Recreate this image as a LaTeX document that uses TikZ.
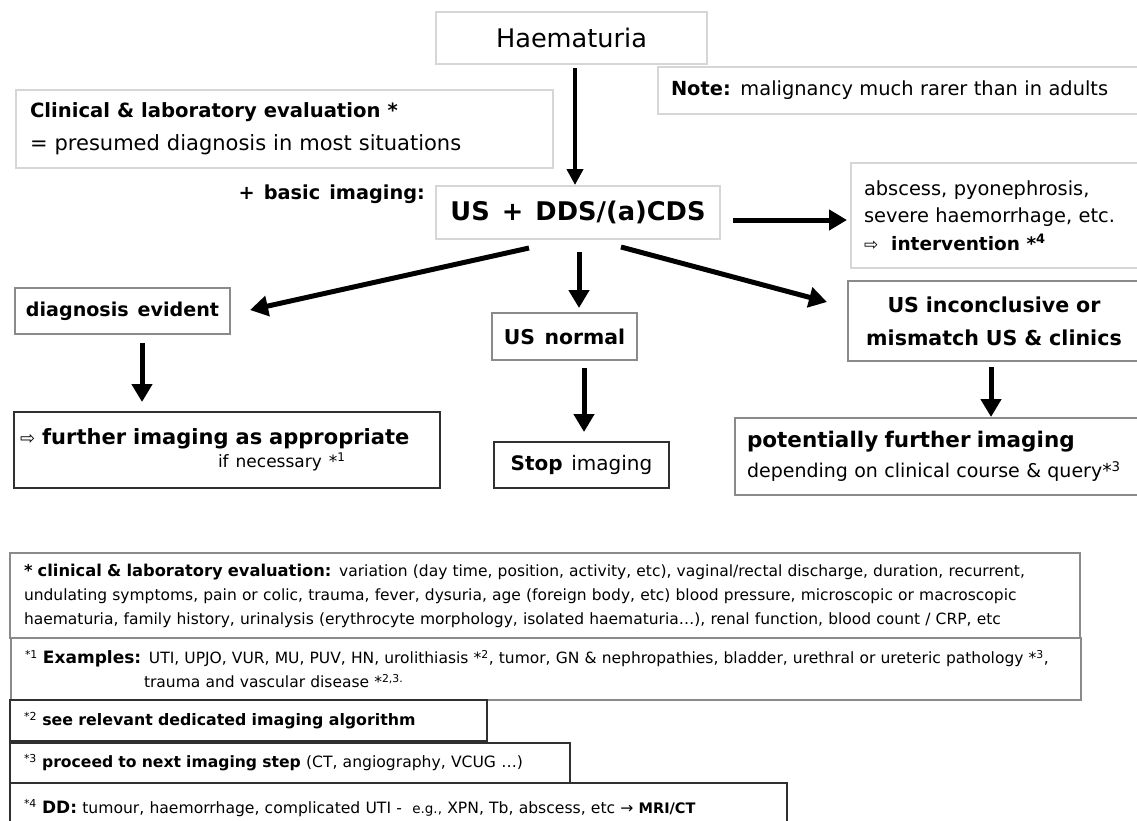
\documentclass[tikz,border=0pt]{standalone}
\usepackage{fontspec}
\setmainfont{DejaVu Sans}
\newfontfamily\wide{DejaVu Sans}[WordSpace=1.35]
\usetikzlibrary{arrows.meta}
\definecolor{clight}{HTML}{D6D6D6}
\definecolor{cmid}{HTML}{8A8A8A}
\definecolor{cdark}{HTML}{303030}
\newcommand{\fsz}[2]{\fontsize{#1pt}{#2pt}\selectfont}
\begin{document}
\begin{tikzpicture}[x=1pt,y=-1pt,
  box/.style={anchor=north west, line width=1.5pt, inner ysep=0pt, outer sep=0pt},
  lightbox/.style={box, draw=clight},
  midbox/.style={box, draw=cmid},
  darkbox/.style={box, draw=cdark},
  arr/.style={line width=5pt, -{Triangle[length=18pt,width=20pt]}},
  thinarr/.style={line width=4pt, -{Triangle[length=16pt,width=16pt]}},
]
\useasboundingbox (0,0) rectangle (1137,820);
\fill[white] (0,0) rectangle (1137,820);
\clip (0,0) rectangle (1137,820);

\node[lightbox, minimum width=271pt, minimum height=52pt, font=\wide\fsz{25.6}{30}] (h) at (436,12) {Haematuria};
\node[lightbox, minimum width=520pt, minimum height=47pt, text width=494pt, inner xsep=13pt, align=left, font=\wide\fsz{19.4}{23}] (note) at (658,67) {\textbf{Note:} malignancy much rarer than in adults};
\node[lightbox, minimum width=537pt, minimum height=78pt, text width=509pt, inner xsep=14pt, align=left, font=\wide\fsz{21}{33}] (clin) at (16,90) {{\fontsize{19.6pt}{33pt}\selectfont\textbf{Clinical \& laboratory evaluation *}}\\ = presumed diagnosis in most situations};
\node[anchor=east, inner sep=0pt, font=\wide\fsz{19.3}{23}] (basic) at (425,194) {\textbf{+ basic imaging:}};
\node[lightbox, minimum width=284pt, minimum height=53pt, font=\wide\fsz{25.7}{30}] (us) at (436,186) {\textbf{US + DDS/(a)CDS}};
\node[lightbox, minimum width=300pt, minimum height=105pt, text width=274pt, inner xsep=13pt, align=left, font=\wide\fsz{19.4}{27.5}] (absc) at (851,163) {abscess, pyonephrosis,\\ severe haemorrhage, etc.\\ {\fontsize{17pt}{27.5pt}\selectfont ⇨}\ \ \textbf{\fontsize{18.5pt}{27.5pt}\selectfont intervention *\textsuperscript{4}}};
\node[midbox, minimum width=215pt, minimum height=46pt, font=\wide\fsz{19.1}{23}] (diag) at (15,288) {\textbf{diagnosis evident}};
\node[midbox, minimum width=145pt, minimum height=47pt, font=\wide\fsz{20.4}{24}] (norm) at (492,313) {\textbf{US normal}};
\node[midbox, minimum width=292pt, minimum height=80pt, text width=280pt, inner xsep=6pt, align=center, font=\wide\fsz{20.6}{33}] (inc) at (848,281) {\textbf{US inconclusive or}\\ \textbf{mismatch US \& clinics}};
\node[darkbox, minimum width=426pt, minimum height=76pt, text width=414pt, inner xsep=6pt, align=left, font=\wide\fsz{21}{23}] (fur) at (14,412) {{\fontsize{18pt}{23pt}\selectfont ⇨}\ \textbf{further imaging as appropriate}\\ \hspace*{198pt}{\fontsize{17pt}{23pt}\selectfont if necessary *\textsuperscript{1}}};
\node[darkbox, minimum width=175pt, minimum height=46pt, font=\wide\fsz{20}{24}] (stop) at (494,442) {\textbf{Stop} imaging};
\node[midbox, minimum width=420pt, minimum height=77pt, text width=396pt, inner xsep=12pt, align=left, font=\wide\fsz{19}{30}] (pot) at (735,418) {{\fontsize{21.5pt}{30pt}\selectfont\textbf{potentially further imaging}}\\ depending on clinical course \& query*\textsuperscript{3}};

\node[midbox, minimum width=1070pt, minimum height=85pt, text width=1042pt, inner xsep=14pt, align=left, font=\fsz{15.5}{24}] (b1) at (10,553) {{\fontsize{16.3pt}{24pt}\selectfont\textbf{* clinical \& laboratory evaluation:}} variation (day time, position, activity, etc), vaginal/rectal discharge, duration, recurrent,\\ undulating symptoms, pain or colic, trauma, fever, dysuria, age (foreign body, etc) blood pressure, microscopic or macroscopic\\ haematuria, family history, urinalysis (erythrocyte morphology, isolated haematuria…), renal function, blood count / CRP, etc};
\node[midbox, minimum width=1070pt, minimum height=62pt, text width=1042pt, inner xsep=14pt, align=left, font=\fsz{15.5}{24}] (b2) at (11,638) {\textsuperscript{*1} {\fontsize{17pt}{24pt}\selectfont\textbf{Examples:}} UTI, UPJO, VUR, MU, PUV, HN, urolithiasis *\textsuperscript{2}, tumor, GN \& nephropathies, bladder, urethral or ureteric pathology *\textsuperscript{3},\\ \hspace*{119pt}trauma and vascular disease *\textsuperscript{2,3.}};
\node[darkbox, minimum width=477pt, minimum height=41pt, text width=449pt, inner xsep=14pt, align=left, font=\fsz{15.8}{20}] (b3) at (10,700) {\textsuperscript{*2} \textbf{see relevant dedicated imaging algorithm}};
\node[darkbox, minimum width=560pt, minimum height=40pt, text width=532pt, inner xsep=14pt, align=left, font=\fsz{15.6}{20}] (b4) at (10,743) {\textsuperscript{*3} \textbf{proceed to next imaging step} (CT, angiography, VCUG …)};
\node[darkbox, minimum width=777pt, minimum height=50pt, text width=749pt, inner xsep=14pt, align=left, font=\fsz{15.6}{20}] (b5) at (10,783) {\textsuperscript{*4} {\fontsize{17pt}{20pt}\selectfont\textbf{DD:}} tumour, haemorrhage, complicated UTI -\ \ {\fontsize{13.5pt}{20pt}\selectfont e.g.,} XPN, Tb, abscess, etc → \textbf{\fontsize{14.5pt}{20pt}\selectfont MRI/CT}};

\draw[thinarr] ([xshift=3.5pt,yshift=-4pt]h.south) -- ([xshift=-3pt,yshift=1pt]us.north);
\draw[arr] ([xshift=13pt,yshift=-7.5pt]us.east) -- ([xshift=-4pt,yshift=-4.5pt]absc.west);
\draw[arr] ([xshift=-49pt,yshift=-9pt]us.south) -- ([xshift=20pt,yshift=1pt]diag.east);
\draw[arr] ([xshift=1pt,yshift=-13pt]us.south) -- ([xshift=14.5pt,yshift=5pt]norm.north);
\draw[arr] ([xshift=43pt,yshift=-8pt]us.south) -- ([xshift=-21pt,yshift=19pt]inc.west);
\draw[arr] ([xshift=19.5pt,yshift=-9pt]diag.south) -- ([xshift=-85pt,yshift=10pt]fur.north);
\draw[arr] ([xshift=19.5pt,yshift=-8pt]norm.south) -- ([xshift=2.5pt,yshift=10pt]stop.north);
\draw[arr] ([xshift=-3pt,yshift=-6pt]inc.south) -- ([xshift=46pt,yshift=1pt]pot.north);
\end{tikzpicture}
\end{document}
